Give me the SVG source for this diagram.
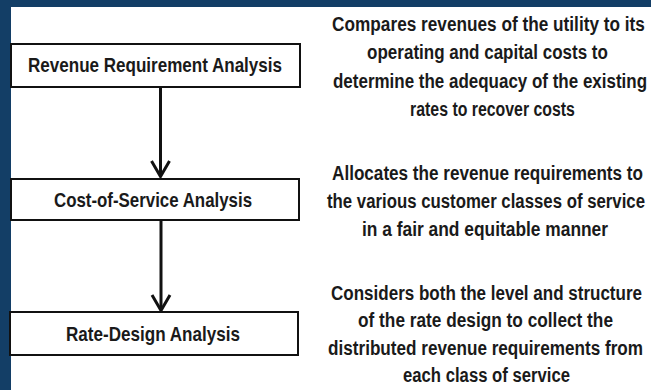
<svg xmlns="http://www.w3.org/2000/svg" width="651" height="390" viewBox="0 0 651 390">
<defs>
<style>
.box{fill:#fff;stroke:#111;stroke-width:2}
.lbl{font-family:"Liberation Sans",Arial,sans-serif;font-weight:bold;font-size:19.5px;fill:#1a1a1a;text-anchor:middle}
.desc{font-family:"Liberation Sans",Arial,sans-serif;font-weight:bold;font-size:20px;fill:#1a1a1a;text-anchor:middle}
.conn{fill:none;stroke:#111;stroke-width:3}
</style>
</defs>
<rect x="0" y="0" width="651" height="390" fill="#133e66"/>
<rect x="11" y="7" width="640" height="383" fill="#fff"/>
<g id="connectors">
<path class="conn" d="M160.5,87 V175"/>
<path class="conn" d="M151.5,161 L160.5,176.5 L169.5,161"/>
<path class="conn" d="M161,220 V310"/>
<path class="conn" d="M152,295 L161,310.5 L170,295"/>
</g>
<g id="node-revenue">
<rect class="box" x="11" y="44" width="289" height="43"/>
<text class="lbl" transform="translate(155,72.3) scale(0.85,1)" x="0" y="0" textLength="298.8" lengthAdjust="spacingAndGlyphs">Revenue Requirement Analysis</text>
</g>
<g id="node-cost">
<rect class="box" x="11" y="179" width="288" height="41"/>
<text class="lbl" transform="translate(153,206.8) scale(0.85,1)" x="0" y="0" textLength="233" lengthAdjust="spacingAndGlyphs">Cost-of-Service Analysis</text>
</g>
<g id="node-rate">
<rect class="box" x="10" y="312" width="288" height="43"/>
<text class="lbl" transform="translate(153,340.8) scale(0.85,1)" x="0" y="0" textLength="204.7" lengthAdjust="spacingAndGlyphs">Rate-Design Analysis</text>
</g>
<g id="desc-revenue">
<text class="desc" transform="translate(488.5,30.5) scale(0.8,1)" x="0" y="0" textLength="391" lengthAdjust="spacingAndGlyphs">Compares  revenues of the utility to its</text>
<text class="desc" transform="translate(487.5,59) scale(0.8,1)" x="0" y="0" textLength="301" lengthAdjust="spacingAndGlyphs">operating and capital costs to</text>
<text class="desc" transform="translate(490,88) scale(0.8,1)" x="0" y="0" textLength="392.5" lengthAdjust="spacingAndGlyphs">determine the adequacy of the existing</text>
<text class="desc" transform="translate(492.5,116) scale(0.8,1)" x="0" y="0" textLength="206" lengthAdjust="spacingAndGlyphs">rates to recover costs</text>
</g>
<g id="desc-cost">
<text class="desc" transform="translate(487.5,179.5) scale(0.8,1)" x="0" y="0" textLength="388.7" lengthAdjust="spacingAndGlyphs">Allocates the revenue requirements to</text>
<text class="desc" transform="translate(486,207.5) scale(0.8,1)" x="0" y="0" textLength="397.5" lengthAdjust="spacingAndGlyphs">the various customer classes of service</text>
<text class="desc" transform="translate(485,236) scale(0.8,1)" x="0" y="0" textLength="307.5" lengthAdjust="spacingAndGlyphs">in a fair and equitable manner</text>
</g>
<g id="desc-rate">
<text class="desc" transform="translate(486.5,299.5) scale(0.8,1)" x="0" y="0" textLength="388.7" lengthAdjust="spacingAndGlyphs">Considers both the level and structure</text>
<text class="desc" transform="translate(485.5,327) scale(0.8,1)" x="0" y="0" textLength="318.7" lengthAdjust="spacingAndGlyphs">of the rate design to collect the</text>
<text class="desc" transform="translate(485.5,355) scale(0.8,1)" x="0" y="0" textLength="393.7" lengthAdjust="spacingAndGlyphs">distributed revenue requirements from</text>
<text class="desc" transform="translate(486.5,382) scale(0.8,1)" x="0" y="0" textLength="208.7" lengthAdjust="spacingAndGlyphs">each class of service</text>
</g>
</svg>
